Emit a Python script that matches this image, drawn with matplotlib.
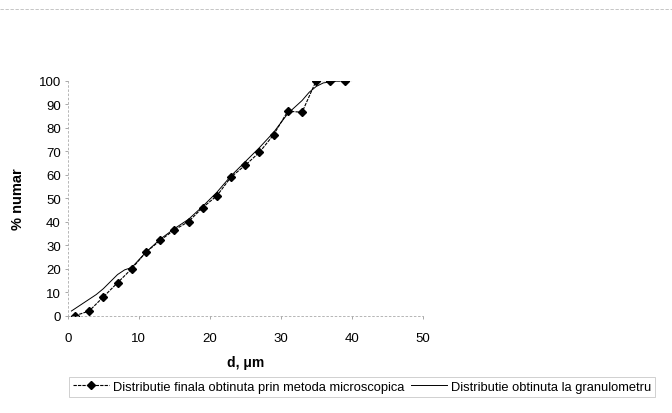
import matplotlib
matplotlib.use("Agg")
import matplotlib.pyplot as plt
from matplotlib.lines import Line2D

plt.rcParams['font.family'] = ['Liberation Sans', 'DejaVu Sans']

# microscopic method
d_micro = [1, 3, 5, 7, 9, 11, 13, 15, 17, 19, 21, 23, 25, 27, 29, 31, 33, 35, 37, 39]
p_micro = [0, 2, 8, 14, 20, 27, 32, 36.5, 40, 46, 51, 59, 64, 69.5, 77, 87, 86.5, 100, 100, 99.8]

# granulometer curve
d_gran = [0.5, 2, 3, 4, 5, 6, 7, 8, 9, 11, 13, 15, 17, 19, 21, 23, 25, 27, 29, 31, 33, 34, 35, 36, 38, 40]
p_gran = [2, 5, 7, 9, 11.5, 14.5, 17.5, 19.5, 20.5, 27, 32.5, 37, 41, 46.5, 52.5, 59.5, 65.5, 71.5,
          78, 86, 91.5, 95, 97.5, 99, 99.8, 100]

xticks = [0, 10, 20, 30, 40, 50]
yticks = [0, 10, 20, 30, 40, 50, 60, 70, 80, 90, 100]

fig = plt.figure(figsize=(6.72, 4.14), dpi=100)
ax = fig.add_axes([0.101, 0.235, 0.528, 0.568])

ax.plot(d_micro, p_micro, color='black', lw=0.8, ls=(0, (3, 1)), marker='D', ms=4.5,
        label='Distributie finala obtinuta prin metoda microscopica')
ax.plot(d_gran, p_gran, color='black', lw=0.7,
        label='Distributie obtinuta la granulometru')

ax.set_xlim(0, 50)
ax.set_ylim(0, 100)
ax.set_xticks(xticks)
ax.set_yticks(yticks)
ax.tick_params(labelsize=9.5, length=2, width=0.6, color='#999999')
ax.tick_params(axis='y', pad=3)
ax.tick_params(axis='x', pad=10)
for s in ['top', 'right']:
    ax.spines[s].set_visible(False)
for s in ['left', 'bottom']:
    ax.spines[s].set_color('#aaaaaa')
    ax.spines[s].set_linewidth(0.6)
    ax.spines[s].set_linestyle((0, (2, 3)))

ax.set_xlabel('d, μm', fontsize=10, fontweight='bold', labelpad=8)
ax.set_ylabel('% numar', fontsize=10.5, fontweight='bold', labelpad=10)

leg = fig.legend(loc='center', bbox_to_anchor=(0.539, 0.063), ncol=2, fontsize=9.3,
                 frameon=True, fancybox=False, edgecolor='#bbbbbb', handlelength=2.8,
                 handletextpad=0.3, columnspacing=0.5, borderpad=0.3)
leg.get_frame().set_linewidth(0.6)

# faint outer border at the top
fig.add_artist(Line2D([0.0, 1.0], [1 - 10 / 414, 1 - 10 / 414], color='#bbbbbb', lw=0.6,
                      ls=(0, (4, 2))))

plt.savefig('out.png', dpi=100)
